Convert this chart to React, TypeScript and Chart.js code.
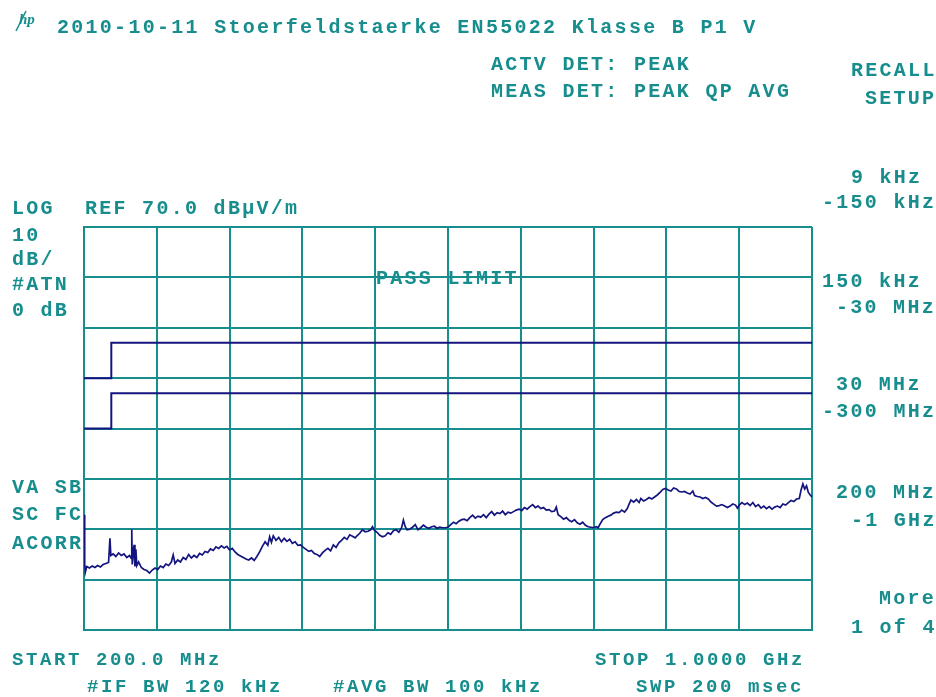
import React, { useEffect, useRef } from "react";
import { Chart, registerables } from "chart.js";

Chart.register(...registerables);

// Frequency sweep (MHz) and measured level (dBµV/m)
const traceFreq = [
  200, 200.5, 201, 201.5, 203, 206, 209, 212, 215, 218, 221, 224, 227, 228.5, 229.5, 232, 235, 238, 241, 244, 247, 250,
  252, 252.5, 253, 255, 256, 257, 258, 260, 263, 266, 269, 272, 275, 278, 281, 284, 287, 290, 293, 296, 298, 300,
  303, 306, 309, 312, 315, 318, 321, 324, 327, 330, 333, 336, 339, 342, 345, 348, 351, 354, 357, 360, 363, 366, 369,
  372, 375, 378, 381, 384, 387, 390, 393, 396, 399, 402, 404, 406, 408, 411, 414, 417, 420, 423, 426, 429, 432, 435,
  438, 441, 444, 447, 450, 453, 456, 459, 462, 465, 468, 471, 474, 477, 480, 483, 486, 489, 492, 495, 498, 500, 503,
  506, 509, 512, 515, 517, 519, 522, 525, 528, 531, 534, 537, 540, 543, 546, 549, 551, 553, 555, 558, 561, 564, 567,
  570, 573, 576, 579, 582, 585, 588, 591, 594, 597, 600, 603, 606, 609, 612, 615, 618, 621, 624, 627, 630, 633, 636,
  639, 642, 645, 648, 651, 654, 657, 660, 663, 666, 669, 672, 675, 678, 681, 684, 687, 690, 693, 696, 699, 702, 705,
  708, 711, 714, 717, 719, 721, 724, 727, 730, 733, 736, 739, 742, 745, 748, 751, 754, 757, 760, 763, 765, 767, 770,
  773, 776, 779, 782, 785, 788, 791, 794, 797, 799, 801, 804, 807, 810, 812, 815, 818, 821, 824, 827, 830, 833, 836,
  839, 842, 845, 848, 851, 854, 857, 860, 863, 866, 869, 871, 874, 877, 880, 883, 886, 889, 892, 895, 898, 901, 904,
  907, 910, 913, 916, 918, 920, 923, 926, 929, 932, 935, 938, 941, 944, 947, 950, 953, 956, 959, 962, 965, 968, 971,
  974, 977, 980, 983, 986, 988, 990, 992, 994, 996, 998, 1000,
];
const traceLevel = [
  8.0, 12.9, 3.0, 1.5, 2.6, 2.3, 2.7, 2.4, 2.8, 2.5, 3.0, 3.2, 3.4, 8.2, 4.8, 5.1, 4.6, 5.3, 4.8, 5.1, 4.4, 4.8,
  4.2, 10.0, 3.0, 6.9, 2.6, 6.0, 2.8, 3.5, 2.4, 2.0, 1.8, 1.3, 1.9, 2.3, 2.0, 2.7, 2.4, 3.1, 2.8, 3.5, 4.9, 3.2,
  3.9, 3.5, 4.4, 4.0, 5.0, 4.3, 4.8, 4.4, 5.2, 4.9, 5.6, 5.4, 6.1, 5.8, 6.5, 6.2, 6.7, 6.3, 6.6, 5.9, 6.2, 5.5, 5.0,
  4.7, 4.4, 4.1, 3.9, 4.3, 3.8, 4.6, 5.5, 6.6, 7.5, 6.8, 8.5, 7.4, 8.7, 7.8, 8.4, 7.5, 8.2, 7.6, 8.0, 7.2, 7.5, 6.8,
  6.9, 6.4, 6.0, 5.6, 5.8, 5.2, 5.0, 4.6, 5.3, 5.8, 6.2, 5.7, 6.9, 6.4, 7.3, 7.8, 8.4, 8.0, 8.9, 8.6, 8.3, 8.7, 9.2,
  9.9, 9.5, 9.6, 9.9, 10.5, 9.8, 9.4, 8.8, 8.5, 8.7, 9.3, 9.0, 9.7, 9.9, 9.4, 10.3, 11.8, 10.5, 9.9, 10.0, 10.4, 10.9, 9.9,
  10.3, 10.8, 10.4, 10.2, 10.5, 10.6, 10.2, 10.4, 10.3, 10.3, 10.4, 10.9, 11.4, 11.1, 11.6, 11.9, 12.0, 11.7, 12.3, 12.8, 12.2, 12.6, 12.4,
  12.9, 12.3, 13.0, 13.5, 12.8, 13.3, 13.1, 13.6, 12.9, 13.4, 13.2, 13.5, 13.8, 14.0, 13.7, 14.3, 14.0, 14.5, 14.9, 14.3, 14.6, 14.1, 14.3,
  13.8, 13.9, 13.5, 13.6, 14.4, 12.9, 12.5, 12.0, 12.3, 11.8, 11.5, 11.9, 11.3, 11.0, 11.4, 10.8, 10.5, 10.4, 10.3, 10.5, 10.3, 11.0, 11.9,
  12.3, 12.6, 12.8, 13.2, 13.4, 13.3, 13.8, 13.4, 14.1, 15.0, 15.8, 15.4, 15.9, 15.3, 16.1, 15.6, 15.9, 16.3, 16.0, 16.4, 16.8, 17.3, 17.9,
  18.1, 17.8, 17.6, 18.2, 18.0, 17.5, 17.4, 17.5, 17.2, 17.0, 17.6, 16.7, 16.5, 16.4, 16.1, 16.3, 16.0, 15.4, 15.0, 14.6, 14.7, 14.9, 14.6,
  14.3, 14.6, 15.0, 14.8, 14.2, 14.8, 15.3, 14.9, 15.2, 14.7, 15.3, 14.5, 14.9, 14.2, 14.6, 14.1, 14.5, 14.0, 14.4, 14.6, 14.3, 15.0, 14.8,
  15.3, 15.7, 15.5, 16.0, 16.1, 17.8, 19.0, 18.0, 18.6, 17.3, 16.8, 16.4,
];

// EN55022 limit lines
const limitFreq = [200, 230, 230, 1000];
const limitUpper = [40, 40, 47, 47];
const limitLower = [30, 30, 37, 37];

// Axis settings
const freqStart = 200;
const freqStop = 1000;
const refLevel = 70;
const dbPerDiv = 10;
const yDivs = 8;
const xDivs = 10;

const TEAL = "#178d8d";
const NAVY = "#14147f";

type Txt = [string, number, number];

const topTexts: Txt[] = [
  ["2010-10-11 Stoerfeldstaerke EN55022 Klasse B P1 V", 57, 27],
  ["ACTV DET: PEAK", 491, 64],
  ["MEAS DET: PEAK QP AVG", 491, 91],
  ["RECALL", 851, 70],
  ["SETUP", 865, 98],
  ["9 kHz", 851, 177],
  ["-150 kHz", 822, 202],
  ["150 kHz", 822, 281],
  ["-30 MHz", 836, 307],
  ["30 MHz", 836, 384],
  ["-300 MHz", 822, 411],
  ["200 MHz", 836, 492],
  ["-1 GHz", 851, 520],
  ["More", 879, 598],
  ["1 of 4", 851, 627],
  ["LOG", 12, 208],
  ["REF 70.0 dBµV/m", 85, 208],
  ["10", 12, 235],
  ["dB/", 12, 259],
  ["#ATN", 12, 284],
  ["0 dB", 12, 310],
  ["VA SB", 12, 487],
  ["SC FC", 12, 514],
  ["ACORR", 12, 543],
  ["PASS LIMIT", 376, 278],
];
const bottomTexts: Txt[] = [
  ["START 200.0 MHz", 12, 659],
  ["STOP 1.0000 GHz", 595, 659],
  ["#IF BW 120 kHz", 87, 686],
  ["#AVG BW 100 kHz", 333, 686],
  ["SWP 200 msec", 636, 686],
];

function drawMono(ctx: CanvasRenderingContext2D, s: string, x: number, y: number, pitch: number) {
  for (let i = 0; i < s.length; i++) {
    const c = s[i];
    if (c === " ") continue;
    const w = ctx.measureText(c).width;
    ctx.fillText(c, x + i * pitch + (pitch - 2.5 - w) / 2, y);
  }
}

const overlay = {
  id: "overlay",
  beforeDraw(chart: any) {
    const ctx = chart.ctx as CanvasRenderingContext2D;
    ctx.save();
    ctx.fillStyle = "#ffffff";
    ctx.fillRect(0, 0, chart.width, chart.height);
    ctx.restore();
  },
  afterDraw(chart: any) {
    const ctx = chart.ctx as CanvasRenderingContext2D;
    ctx.save();
    ctx.fillStyle = TEAL;
    ctx.textBaseline = "middle";
    ctx.font = "bold 20px 'Liberation Mono', monospace";
    topTexts.forEach(([s, x, y]) => drawMono(ctx, s, x, y + 1, 14.3));
    ctx.font = "bold 19px 'Liberation Mono', monospace";
    bottomTexts.forEach(([s, x, y]) => drawMono(ctx, s, x, y + 1, 14.0));
    // hp logo
    ctx.font = "italic bold 15px 'Liberation Serif', serif";
    ctx.fillText("hp", 19, 20);
    ctx.strokeStyle = TEAL;
    ctx.lineWidth = 1.5;
    ctx.beginPath();
    ctx.moveTo(16, 31);
    ctx.lineTo(26, 11);
    ctx.stroke();
    ctx.restore();
  },
};

export default function App() {
  const ref = useRef<HTMLCanvasElement | null>(null);
  useEffect(() => {
    if (!ref.current) return;
    const chart = new Chart(ref.current, {
      type: "line",
      data: {
        datasets: [
          {
            label: "Trace",
            data: traceFreq.map((f, i) => ({ x: f, y: traceLevel[i] })),
            borderColor: NAVY,
            borderWidth: 1.7,
            pointRadius: 0,
            tension: 0,
          },
          {
            label: "Limit upper",
            data: limitFreq.map((f, i) => ({ x: f, y: limitUpper[i] })),
            borderColor: NAVY,
            borderWidth: 2,
            pointRadius: 0,
          },
          {
            label: "Limit lower",
            data: limitFreq.map((f, i) => ({ x: f, y: limitLower[i] })),
            borderColor: NAVY,
            borderWidth: 2,
            pointRadius: 0,
          },
        ],
      },
      options: {
        responsive: false,
        animation: false,
        devicePixelRatio: 1,
        layout: { padding: { left: 84, right: 124, top: 227, bottom: 67 } },
        plugins: { legend: { display: false }, tooltip: { enabled: false }, title: { display: false } },
        scales: {
          x: {
            type: "linear",
            min: freqStart,
            max: freqStop,
            ticks: { display: false, stepSize: (freqStop - freqStart) / xDivs },
            grid: { color: TEAL, lineWidth: 2, drawTicks: false },
            border: { color: TEAL, width: 2 },
          },
          y: {
            type: "linear",
            min: refLevel - dbPerDiv * yDivs,
            max: refLevel,
            ticks: { display: false, stepSize: dbPerDiv },
            grid: { color: TEAL, lineWidth: 2, drawTicks: false },
            border: { color: TEAL, width: 2 },
          },
        },
      },
      plugins: [overlay],
    });
    return () => chart.destroy();
  }, []);
  return (
    <canvas
      ref={ref}
      width={936}
      height={697}
      style={{ position: "absolute", left: 0, top: 0, width: 936, height: 697, display: "block" }}
    />
  );
}
